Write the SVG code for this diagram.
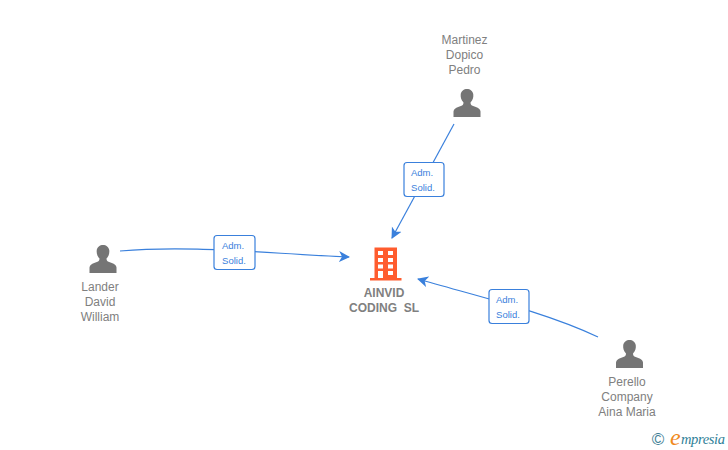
<svg xmlns="http://www.w3.org/2000/svg" width="728" height="450" viewBox="0 0 728 450">
<style>
text{font-family:"Liberation Sans",Arial,sans-serif}
.n{font-size:12px;fill:#808080;text-anchor:middle}
.c{font-size:12px;fill:#808080;text-anchor:middle;font-weight:bold}
.l{font-size:9.5px;fill:#3a80dc;text-anchor:middle}
.e{fill:none;stroke:#3a80dc;stroke-width:1.2;marker-end:url(#a)}
.b{fill:#fff;stroke:#3a80dc;stroke-width:1.2}
.p{fill:#757575}
</style>
<defs>
<marker id="a" markerUnits="userSpaceOnUse" markerWidth="12" markerHeight="12" refX="10" refY="6" orient="auto"><path d="M0 0.5L11 6L0 11.5L3 6Z" fill="#3a80dc"/></marker>
<g id="person"><path class="p" d="M-3.5 -1.5C-6 -4-6.5-7-6.3-9.5C-6-13-3-15 0-15C3-15 6-13 6.3-9.500C6.500-7 6-4 3.500-1.500C3.500 0 4 1 5.500 1.800C9 3.200 13 4 13.500 7.500V13H-13.500V7.500C-13 4-9 3.200-5.500 1.800C-4 1-3.500 0-3.500-1.500Z"/></g>
</defs>
<g id="connectors">
<path class="e" d="M454 124L392 238"/>
<path class="e" d="M120 251C190 245 260 253 349 257"/>
<path class="e" d="M598 337C545 312 480 297 418 279"/>
</g>
<g id="edge-label-1"><rect class="b" x="404" y="162.500" width="40" height="34" rx="3"/><text class="l" x="422" y="176">Adm.</text><text class="l" x="423" y="191">Solid.</text></g>
<g id="edge-label-2"><rect class="b" x="214" y="235.500" width="41" height="34" rx="3"/><text class="l" x="233" y="249">Adm.</text><text class="l" x="234" y="264">Solid.</text></g>
<g id="edge-label-3"><rect class="b" x="489" y="289.500" width="40" height="34" rx="3"/><text class="l" x="507" y="303">Adm.</text><text class="l" x="508" y="318">Solid.</text></g>
<g id="company">
<path fill="#ff5c2e" fill-rule="evenodd" d="M374.500 247.500H397V278H401.500V280.500H370V278H374.500ZM378 251V255H383V251ZM388 251V255H393V251ZM378 258V262H383V258ZM388 258V262H393V258ZM378 264.500V268.500H383V264.500ZM388 264.500V268.500H393V264.500ZM378 271V278H383V271ZM388 271V275H393V271Z"/>
<text class="c" x="384" y="297">AINVID</text>
<text class="c" x="384" y="312" xml:space="preserve">CODING  SL</text>
</g>
<g id="martinez"><use href="#person" x="467" y="104"/><text class="n" x="464.500" y="44">Martinez</text><text class="n" x="464.500" y="59">Dopico</text><text class="n" x="464.500" y="74">Pedro</text></g>
<g id="lander"><use href="#person" x="103" y="260"/><text class="n" x="100" y="291">Lander</text><text class="n" x="100" y="306">David</text><text class="n" x="100" y="321">William</text></g>
<g id="perello"><use href="#person" x="629.500" y="355"/><text class="n" x="627" y="386">Perello</text><text class="n" x="627" y="401">Company</text><text class="n" x="627" y="416">Aina Maria</text></g>
<g id="brand">
<text x="658" y="445" font-size="17" fill="#3f7f96" text-anchor="middle">©</text>
<text x="670" y="445" style="font-family:'Liberation Serif',serif" font-size="24" font-style="italic" fill="#f08a1d">e</text>
<text x="681" y="444" style="font-family:'Liberation Serif',serif" font-size="14.500" font-style="italic" fill="#2f7f98" textLength="44">mpresia</text>
</g>
</svg>
